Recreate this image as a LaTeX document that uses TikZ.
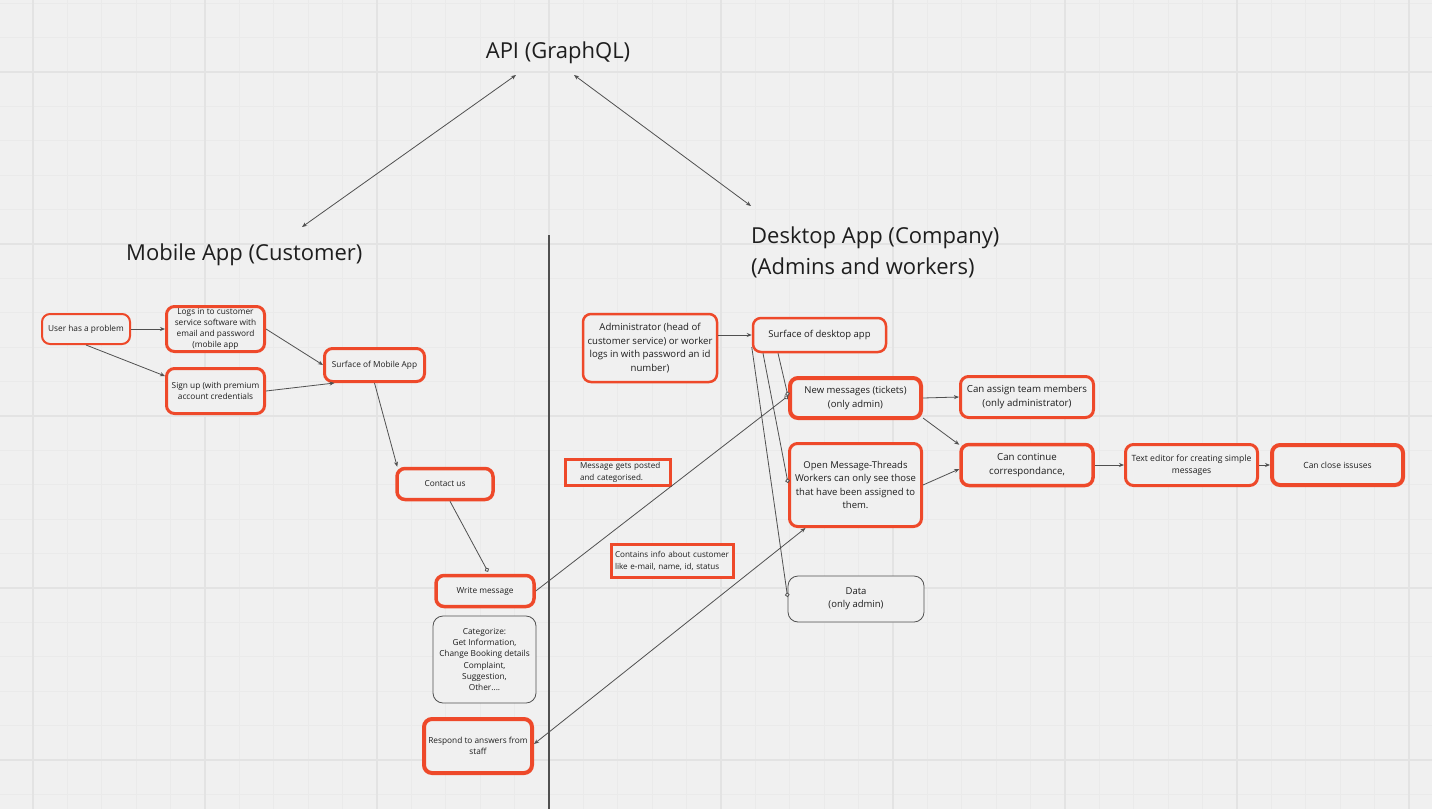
\documentclass[tikz,border=0pt]{standalone}
\usepackage{fontspec}
\setmainfont{Open Sans}
\usetikzlibrary{arrows.meta}
\definecolor{bg}{RGB}{240,240,240}
\definecolor{gminor}{RGB}{234,234,234}
\definecolor{gmajor}{RGB}{227,227,227}
\definecolor{myred}{RGB}{238,73,42}
\definecolor{ln}{RGB}{80,80,80}
\definecolor{txt}{RGB}{30,30,30}
\begin{document}
\begin{tikzpicture}[x=1pt,y=-1pt,
  rbox/.style={draw=myred, fill=bg, rounded corners=8pt, inner sep=0pt, align=center,
    text=txt, line width=#1, font=\fontsize{8.3}{11.5}\selectfont},
  rbox/.default=3pt,
  kbox/.style={draw=ln, fill=bg, rounded corners=10pt, inner sep=0pt, align=center,
    text=txt, line width=0.8pt, font=\fontsize{8.3}{11.3}\selectfont},
  sbox/.style={draw=myred, fill=bg, inner sep=0pt, align=left, text=txt,
    line width=3.5pt, font=\fontsize{8.1}{11.5}\selectfont},
  title/.style={inner sep=0pt, text=txt, font=\fontsize{22}{31}\selectfont},
  conn/.style={draw=ln, line width=0.8pt, -{Stealth[length=5pt,width=4pt]}},
  conno/.style={draw=ln, line width=0.8pt, -{Circle[length=4.5pt,fill=bg]}},
  conn2/.style={draw=ln, line width=0.8pt, {Stealth[length=5pt,width=4pt]}-{Stealth[length=5pt,width=4pt]}}
]
\useasboundingbox (0,0) rectangle (1432,809);
\fill[bg] (0,0) rectangle (1432,809);
% grid
\foreach \i in {0,...,41} {
  \draw[gminor, line width=0.8pt] ({33+34.4*(\i-1)},0) -- ({33+34.4*(\i-1)},809);
}
\foreach \i in {0,...,24} {
  \draw[gminor, line width=0.8pt] (0,{3.2+34.4*\i}) -- (1432,{3.2+34.4*\i});
}
\foreach \i in {0,...,8} {
  \draw[gmajor, line width=1.6pt] ({33+172*\i},0) -- ({33+172*\i},809);
}
\foreach \i in {0,...,4} {
  \draw[gmajor, line width=1.6pt] (0,{72+172*\i}) -- (1432,{72+172*\i});
}
% divider
\draw[ln, line width=1.2pt] (549,235) -- (549,809);

% titles
\node[title] (api) at (558,53) {API (GraphQL)};
\node[title, anchor=west] (mob) at (126,255) {Mobile App (Customer)};
\node[title, anchor=west, align=left] (desk) at (751,252) {Desktop App (Company)\\(Admins and workers)};
\coordinate (mobtop) at (302,227);
\coordinate (desktop) at (751,206);

% mobile side
\node[rbox=2pt, minimum width=88pt, minimum height=30pt] (user) at (86,329) {User has a problem};
\node[rbox=3pt, minimum width=98pt, minimum height=45pt, font=\fontsize{8.3}{11.2}\selectfont] (logs) at (215.5,329) {Logs in to customer\\service software with\\email and password\\(mobile app};
\node[rbox=3pt, minimum width=98pt, minimum height=45pt] (sign) at (215.5,391) {Sign up (with premium\\account credentials};
\node[rbox=3pt, minimum width=100pt, minimum height=33pt] (surfm) at (374.5,365) {Surface of Mobile App};
\node[rbox=3.5pt, minimum width=96pt, minimum height=31pt] (contact) at (445,484) {Contact us};
\node[rbox=3.5pt, minimum width=98pt, minimum height=31pt] (write) at (485,591) {Write message};
\node[kbox, minimum width=103pt, minimum height=87pt] (cat) at (484.5,659.5) {Categorize:\\Get Information,\\Change Booking details\\Complaint,\\Suggestion,\\Other....};
\node[rbox=4pt, minimum width=108pt, minimum height=54pt] (resp) at (478,746) {Respond to answers from\\staff};

% middle labels
\node[sbox, minimum width=105pt, minimum height=26pt, text width=100pt] (posted) at (618,472.5) {\hspace*{12pt}Message gets posted\\\hspace*{12pt}and categorised.};
\node[sbox, minimum width=122pt, minimum height=33pt, text width=115pt] (info) at (672.5,561) {Contains info about customer\\like e-mail, name, id, status};

% desktop side
\node[rbox=2.5pt, minimum width=134pt, minimum height=68pt, font=\fontsize{9.6}{13.6}\selectfont] (admin) at (650,348) {Administrator (head of\\customer service) or worker\\logs in with password an id\\number)};
\node[rbox=2.5pt, minimum width=133pt, minimum height=34pt, font=\fontsize{9.5}{13.4}\selectfont] (surfd) at (819.5,335) {Surface of desktop app};
\node[rbox=4pt, minimum width=131pt, minimum height=40pt, font=\fontsize{9.5}{13.6}\selectfont] (newm) at (855.5,398) {New messages (tickets)\\(only admin)};
\node[rbox=3pt, minimum width=132pt, minimum height=83pt, font=\fontsize{9.5}{13.3}\selectfont] (open) at (855.5,485) {Open Message-Threads\\Workers can only see those\\that have been assigned to\\them.};
\node[kbox, minimum width=136pt, minimum height=46pt, font=\fontsize{9.5}{13.4}\selectfont] (data) at (856,599) {Data\\(only admin)};
\node[rbox=3pt, minimum width=133pt, minimum height=41pt, font=\fontsize{9.7}{13.3}\selectfont] (assign) at (1027,397) {Can assign team members\\(only administrator)};
\node[rbox=3.5pt, minimum width=132pt, minimum height=41pt, font=\fontsize{9.7}{13.3}\selectfont] (cont) at (1027,465) {Can continue\\correspondance,};
\node[rbox=3pt, minimum width=132pt, minimum height=41pt, font=\fontsize{8.6}{12.3}\selectfont] (edit) at (1191.5,465) {Text editor for creating simple\\messages};
\node[rbox=4pt, minimum width=131pt, minimum height=40pt, font=\fontsize{8.5}{11.5}\selectfont] (close) at (1337.5,465) {Can close issuses};

% connectors
\draw[conn2] ([xshift=-42pt,yshift=-22pt]api.center) -- (mobtop);
\draw[conn2] ([xshift=16pt,yshift=-22pt]api.center) -- (desktop);
\draw[conn] (user.east) -- (logs.west);
\draw[conn] (user.south) -- ([yshift=15pt]sign.west);
\draw[conn] (logs.east) -- (surfm.west);
\draw[conn] (sign.east) -- ([xshift=-40pt]surfm.south);
\draw[conn] (surfm.south) -- ([xshift=2pt]contact.north west);
\draw[conno] ([xshift=5pt]contact.south) -- ([xshift=3pt,yshift=2pt]write.north);
\draw[conno] (write.east) -- ([yshift=2pt]newm.west);
\draw[conn2] ([xshift=-50pt]open.south) -- ([yshift=2pt]resp.east);
\draw[conn] ([yshift=13pt]admin.east) -- (surfd.west);
\draw[conno] ([xshift=-41.5pt]surfd.south) -- ([yshift=2pt]newm.west);
\draw[conno] ([xshift=-56.5pt]surfd.south) -- ([yshift=2pt]open.west);
\draw[conno] ([yshift=-12pt]surfd.west) -- ([yshift=2pt]data.west);
\draw[conn] (newm.east) -- (assign.west);
\draw[conn] ([yshift=2pt]newm.south east) -- ([yshift=-2pt]cont.north west);
\draw[conn] (open.east) -- ([yshift=-4pt]cont.west);
\draw[conn] (cont.east) -- (edit.west);
\draw[conn] (edit.east) -- (close.west);
\end{tikzpicture}
\end{document}
